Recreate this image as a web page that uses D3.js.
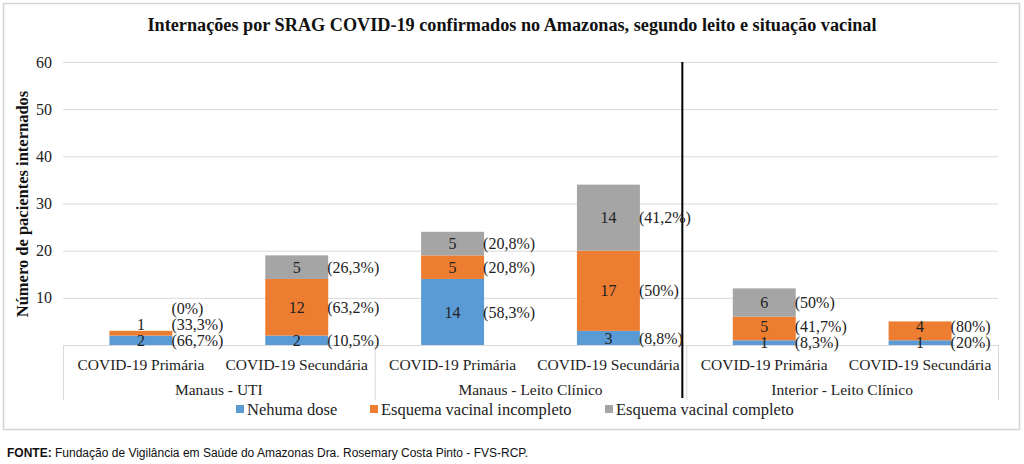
<!DOCTYPE html>
<html><head><meta charset="utf-8">
<script src="https://cdn.jsdelivr.net/npm/d3@7/dist/d3.min.js"></script>
<style>
html,body{margin:0;padding:0;background:#fff;}
svg{display:block;}
</style></head>
<body>
<svg id="chart" width="1024" height="464"></svg>
<script>
const title = "Internações por SRAG COVID-19 confirmados no Amazonas, segundo leito e situação vacinal";
const yTitle = "Número de pacientes internados";
const categories = ["COVID-19 Primária","COVID-19 Secundária","COVID-19 Primária","COVID-19 Secundária","COVID-19 Primária","COVID-19 Secundária"];
const groups = ["Manaus - UTI","Manaus - Leito Clínico","Interior - Leito Clínico"];
const seriesNames = ["Nehuma dose","Esquema vacinal incompleto","Esquema vacinal completo"];
const nenhumaDose = [2, 2, 14, 3, 1, 1];
const incompleto  = [1, 12, 5, 17, 5, 4];
const completo    = [0, 5, 5, 14, 6, null];
const yTicks = [10, 20, 30, 40, 50, 60];
const source = "Fundação de Vigilância em Saúde do Amazonas Dra. Rosemary Costa Pinto - FVS-RCP.";

(function(){
const colors = ["#5b9bd5","#ed7d31","#a5a5a5"];
const serif = "'Liberation Serif','Times New Roman',serif";
const svg = d3.select("#chart");

// frame
svg.append("rect").attr("x",3.5).attr("y",3.5).attr("width",1016).attr("height",426)
  .attr("fill","#fff").attr("stroke","#d4d4d4").attr("stroke-width",1.5);

const pL = 63, pR = 998, pT = 62, pB = 345;
const x = d3.scaleBand().domain(d3.range(categories.length)).range([pL,pR])
  .paddingInner(0.596).paddingOuter(0.298);
const y = d3.scaleLinear().domain([0,60]).range([pB, pT]);

// title
svg.append("text").attr("x",512).attr("y",31).attr("text-anchor","middle")
  .attr("font-family",serif).attr("font-weight","bold").attr("font-size",18)
  .attr("fill","#111").attr("textLength",729).attr("lengthAdjust","spacingAndGlyphs").text(title);

// grid
svg.append("g").selectAll("line").data(yTicks).join("line")
  .attr("x1",pL).attr("x2",pR).attr("y1",d=>y(d)+0.5).attr("y2",d=>y(d)+0.5)
  .attr("stroke","#d9d9d9").attr("stroke-width",1);

// y axis labels
const yAxis = d3.axisLeft(y).tickValues(yTicks).tickSize(0).tickPadding(0);
const ga = svg.append("g").attr("transform",`translate(${pL-11},0)`).call(yAxis);
ga.select(".domain").remove();
ga.selectAll("text").attr("font-family",serif).attr("font-size",16).attr("fill","#222").attr("dy","0.32em");

svg.append("text").attr("transform",`translate(28,204) rotate(-90)`).attr("text-anchor","middle")
  .attr("font-family",serif).attr("font-weight","bold").attr("font-size",16.5).attr("fill","#111").text(yTitle);

// stack data
const series = [nenhumaDose, incompleto, completo];
const rows = categories.map((c,i)=>{
  let base = 0;
  const total = series.reduce((s,a)=>s+(a[i]||0),0);
  return series.map((a,k)=>{
    const v = a[i];
    const seg = {i,k,v,y0:base,y1:base+(v||0),total};
    base += (v||0);
    return seg;
  });
});

// bars
const bw = x.bandwidth();
rows.forEach(segs=>{
  svg.append("g").selectAll("rect").data(segs.filter(s=>s.v>0)).join("rect")
    .attr("x",s=>x(s.i)).attr("width",bw)
    .attr("y",s=>y(s.y1)).attr("height",s=>y(s.y0)-y(s.y1))
    .attr("fill",s=>colors[s.k]);
});

// category table
const tbl = svg.append("g").attr("stroke","#d9d9d9").attr("stroke-width",1);
tbl.append("line").attr("x1",pL).attr("x2",pR).attr("y1",pB+0.5).attr("y2",pB+0.5);
const groupEdges = [0,2,4,6].map(j=> j===6 ? pR : (j===0 ? pL : x(j) - x.step()*x.paddingInner()/2));
groupEdges.forEach(gx=>{
  tbl.append("line").attr("x1",gx+0.5).attr("x2",gx+0.5).attr("y1",pB).attr("y2",400);
});

svg.append("g").selectAll("text").data(categories).join("text")
  .attr("x",(d,i)=>x(i)+bw/2).attr("y",370).attr("text-anchor","middle")
  .attr("font-family",serif).attr("font-size",15.5).attr("fill","#222").text(d=>d);
svg.append("g").selectAll("text").data(groups).join("text")
  .attr("x",(d,i)=>(groupEdges[i]+groupEdges[i+1])/2).attr("y",395).attr("text-anchor","middle")
  .attr("font-family",serif).attr("font-size",15.5).attr("fill","#222").text(d=>d);

// separator line (annotation)
svg.append("line").attr("x1",groupEdges[2]-4).attr("x2",groupEdges[2]-4).attr("y1",pT).attr("y2",398)
  .attr("stroke","#000").attr("stroke-width",2);

// labels
const fmtPct = v=>{
  const r = Math.round(v*10)/10;
  return "(" + (Number.isInteger(r) ? r.toString() : r.toFixed(1).replace(".",",")) + "%)";
};
rows.forEach(segs=>{
  let prev = Infinity;
  segs.forEach(s=>{
    if(!(s.v>0)) return;
    let cy = y((s.y0+s.y1)/2);
    cy = Math.min(cy, prev-16);
    prev = cy;
    svg.append("text").attr("x",x(s.i)+bw/2).attr("y",cy).attr("dy","0.35em").attr("text-anchor","middle")
      .attr("font-family",serif).attr("font-size",16).attr("fill","#222").text(s.v);
  });
  prev = Infinity;
  segs.forEach(s=>{
    if(s.v===null) return;
    let cy = y((s.y0+s.y1)/2);
    cy = Math.min(cy, prev-16);
    prev = cy;
    svg.append("text").attr("x",x(s.i)+bw-1).attr("y",cy).attr("dy","0.35em").attr("text-anchor","start")
      .attr("font-family",serif).attr("font-size",16).attr("fill","#222").text(fmtPct(s.v/s.total*100));
  });
});

// legend
const legX = [236, 370, 605];
const lg = svg.append("g");
seriesNames.forEach((n,k)=>{
  lg.append("rect").attr("x",legX[k]).attr("y",405).attr("width",8).attr("height",8).attr("fill",colors[k]);
  lg.append("text").attr("x",legX[k]+11).attr("y",409).attr("dy","0.35em")
    .attr("font-family",serif).attr("font-size",16.5).attr("fill","#222").text(n);
});

// footer
const ft = svg.append("text").attr("x",7).attr("y",457)
  .attr("font-family","'Liberation Sans',Arial,sans-serif").attr("font-size",12).attr("fill","#111");
ft.append("tspan").attr("font-weight","bold").text("FONTE:");
ft.append("tspan").text(" " + source);
})();
</script>
</body></html>
